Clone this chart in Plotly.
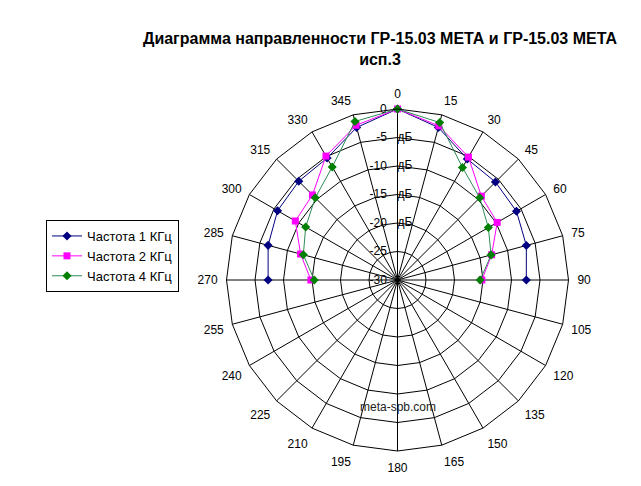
import plotly.graph_objects as go

angles = [270, 285, 300, 315, 330, 345, 0, 15, 30, 45, 60, 75, 90]
freq_1k = [-7.3, -6.5, -5.7, -5.5, -5.3, -2.3, 0, -2.3, -5.5, -5.7, -5.9, -6.6, -7.4]
freq_2k = [-14.8, -12.4, -9.3, -8.9, -4.9, -1.9, 0, -2.0, -5.1, -9.2, -9.8, -12.9, -15.2]
freq_4k = [-15.4, -12.9, -11.4, -9.6, -7.1, -1.2, 0, -1.4, -7.2, -9.6, -11.6, -13.0, -15.5]

names = ["Частота 1 КГц", "Частота 2 КГц", "Частота 4 КГц"]
radial_vals = [-30, -25, -20, -15, -10, -5, 0]
radial_text = ["-30", "-25", "-20", "-15", "-10", "-5", "0"]
unit_vals = [-20, -15, -10, -5]
unit_text = ["дБ", "дБ", "дБ", "дБ"]
angle_ticks = list(range(0, 360, 15))
angle_text = [str(a) for a in angle_ticks]

# dB floor at the centre of the chart; the polar axis measures height above it
FLOOR = -30

def above_floor(values):
    return [v - FLOOR for v in values]

title = "Диаграмма направленности ГР-15.03 МЕТА и ГР-15.03 МЕТА<br>исп.3"
font = "Liberation Sans, Arial, sans-serif"

fig = go.Figure()
styles = [
    dict(line=dict(color="#000080", width=1), marker=dict(symbol="diamond", size=7, color="#000080")),
    dict(line=dict(color="#FF00FF", width=1), marker=dict(symbol="square", size=7, color="#FF00FF")),
    dict(line=dict(color="#2E8B57", width=1), marker=dict(symbol="diamond", size=7, color="#008000")),
]
for name, vals, st in zip(names, [freq_1k, freq_2k, freq_4k], styles):
    fig.add_trace(go.Scatterpolar(r=above_floor(vals), theta=[str(a) for a in angles],
                                  mode="lines+markers", name=name,
                                  customdata=vals, hovertemplate="%{theta}°: %{customdata} дБ",
                                  line=st["line"], marker=st["marker"], cliponaxis=False))

fig.add_trace(go.Scatterpolar(r=above_floor(unit_vals), theta=["0"] * len(unit_vals), mode="text",
                              text=unit_text, textposition="middle right", showlegend=False,
                              hoverinfo="skip", textfont=dict(size=12, color="black"), cliponaxis=False))

fig.update_layout(
    width=641, height=486,
    paper_bgcolor="white", plot_bgcolor="white",
    margin=dict(l=0, r=0, t=0, b=0),
    font=dict(family=font, size=12, color="black"),
    title=dict(text=title, x=380/641, xanchor="center", y=0.909, yanchor="top",
               font=dict(family=font, size=16, color="black", weight="bold")),
    polar=dict(
        domain=dict(x=[226.5/641, 568.5/641], y=[35/486, 377/486]),
        bgcolor="white",
        gridshape="linear",
        angularaxis=dict(type="category", categoryorder="array", categoryarray=angle_text,
                         direction="clockwise", rotation=90,
                         showline=True, linecolor="black", linewidth=1,
                         gridcolor="black", gridwidth=1,
                         ticks="outside", ticklen=6, tickcolor="rgba(0,0,0,0)",
                         tickfont=dict(size=12, color="black")),
        radialaxis=dict(range=[0, -FLOOR], angle=90, tickangle=90, side="counterclockwise",
                        tickmode="array", tickvals=above_floor(radial_vals), ticktext=radial_text,
                        showline=False, gridcolor="black", gridwidth=1,
                        ticks="outside", ticklen=6, tickcolor="rgba(0,0,0,0)",
                        tickfont=dict(size=12, color="black")),
    ),
    legend=dict(x=46/641, y=1-220/486, xanchor="left", yanchor="top",
                bordercolor="black", borderwidth=1, bgcolor="white",
                font=dict(size=13, color="black"), tracegroupgap=0),
    showlegend=True,
    annotations=[dict(text="meta-spb.com", x=398/641, y=1-416/486, xref="paper", yref="paper",
                      showarrow=False, font=dict(size=12, color="#222222"))],
)

fig.write_html("out.html", config={"displayModeBar": False},
               post_script="document.body.style.margin='0px';document.body.style.overflow='hidden';")
